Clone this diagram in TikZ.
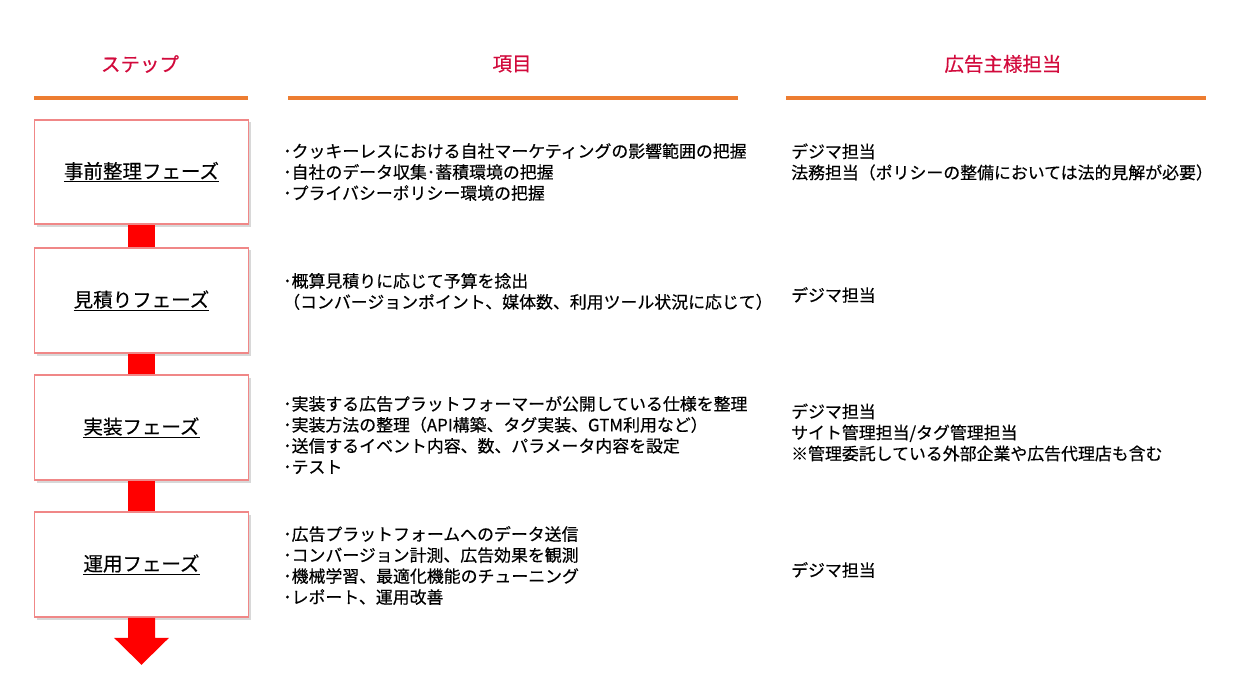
\documentclass[tikz,border=0pt]{standalone}
\usepackage{fontspec}
\setmainfont{Noto Sans CJK JP}[FakeBold=0.35]
\usetikzlibrary{calc,shadows}
\definecolor{headred}{RGB}{210,10,60}
\definecolor{lineorange}{RGB}{237,125,49}
\definecolor{boxedge}{RGB}{240,135,135}
\definecolor{flowred}{RGB}{255,0,0}
\tikzset{
  headtext/.style={font=\fontsize{19.5bp}{23bp}\selectfont, text=headred, inner sep=0pt},
  headline/.style={draw=lineorange, line width=4bp},
  stepbox/.style={draw=boxedge, line width=1.6bp, fill=white, minimum width=214bp, minimum height=104bp, inner sep=0pt,
    font=\fontsize{19.5bp}{23bp}\selectfont,
    drop shadow={shadow xshift=2.5bp, shadow yshift=-2.5bp, opacity=0.25, fill=black!60}},
  itemtext/.style={font=\fontsize{16.9bp}{21bp}\selectfont, align=left, anchor=west, inner sep=0pt},
  flowbar/.style={fill=flowred}
}
\begin{document}
\begin{tikzpicture}[x=1bp, y=-1bp]
\useasboundingbox[fill=white] (0,0) rectangle (1247,689);

% headers
\node[headtext] (h1) at (140,64) {ステップ};
\node[headtext] (h2) at (512,64) {項目};
\node[headtext] (h3) at (1003,64) {広告主様担当};
\coordinate (l1a) at (34,98);  \coordinate (l1b) at (248,98);
\coordinate (l2a) at (288,98); \coordinate (l2b) at (738,98);
\coordinate (l3a) at (786,98); \coordinate (l3b) at (1206,98);
\draw[headline] (l1a) -- (l1b);
\draw[headline] (l2a) -- (l2b);
\draw[headline] (l3a) -- (l3b);

% step boxes
\node[stepbox] (b1) at (141.5,172) {\underline{事前整理フェーズ}};
\node[stepbox, minimum height=105bp] (b2) at (141.5,300.5) {\underline{見積りフェーズ}};
\node[stepbox, minimum height=105bp] (b3) at (141.5,427.5) {\underline{実装フェーズ}};
\node[stepbox, minimum height=105bp] (b4) at (141.5,564.5) {\underline{運用フェーズ}};

% connectors
\fill[flowbar] ($(b1.south)+(-13.5,0)$) rectangle ($(b2.north)+(13.5,0)$);
\fill[flowbar] ($(b2.south)+(-13.5,0)$) rectangle ($(b3.north)+(13.5,0)$);
\fill[flowbar] ($(b3.south)+(-13.5,0)$) rectangle ($(b4.north)+(13.5,0)$);
\coordinate (tip) at ($(b4.south)+(0,47)$);
\fill[flowbar] ($(b4.south)+(-13.5,0)$) -- ($(b4.south)+(-13.5,20)$) -- ($(b4.south)+(-27.5,20)$)
  -- (tip) -- ($(b4.south)+(27.5,20)$) -- ($(b4.south)+(13.5,20)$) -- ($(b4.south)+(13.5,0)$) -- cycle;

% middle column
\node[itemtext] (m1) at (283,172) {･クッキーレスにおける自社マーケティングの影響範囲の把握\\･自社のデータ収集･蓄積環境の把握\\･プライバシーポリシー環境の把握};
\node[itemtext] (m2) at (283,291.5) {･概算見積りに応じて予算を捻出\\（コンバージョンポイント、媒体数、利用ツール状況に応じて）};
\node[itemtext] (m3) at (283,435) {･実装する広告プラットフォーマーが公開している仕様を整理\\･実装方法の整理（API構築、タグ実装、GTM利用など）\\･送信するイベント内容、数、パラメータ内容を設定\\･テスト};
\node[itemtext] (m4) at (283,565.5) {･広告プラットフォームへのデータ送信\\･コンバージョン計測、広告効果を観測\\･機械学習、最適化機能のチューニング\\･レポート、運用改善};

% right column
\node[itemtext] (r1) at (791,162) {デジマ担当\\法務担当（ポリシーの整備においては法的見解が必要）};
\node[itemtext] (r2) at (791,295) {デジマ担当};
\node[itemtext] (r3) at (791,432.5) {デジマ担当\\サイト管理担当/タグ管理担当\\※管理委託している外部企業や広告代理店も含む};
\node[itemtext] (r4) at (791,570) {デジマ担当};
\end{tikzpicture}
\end{document}
